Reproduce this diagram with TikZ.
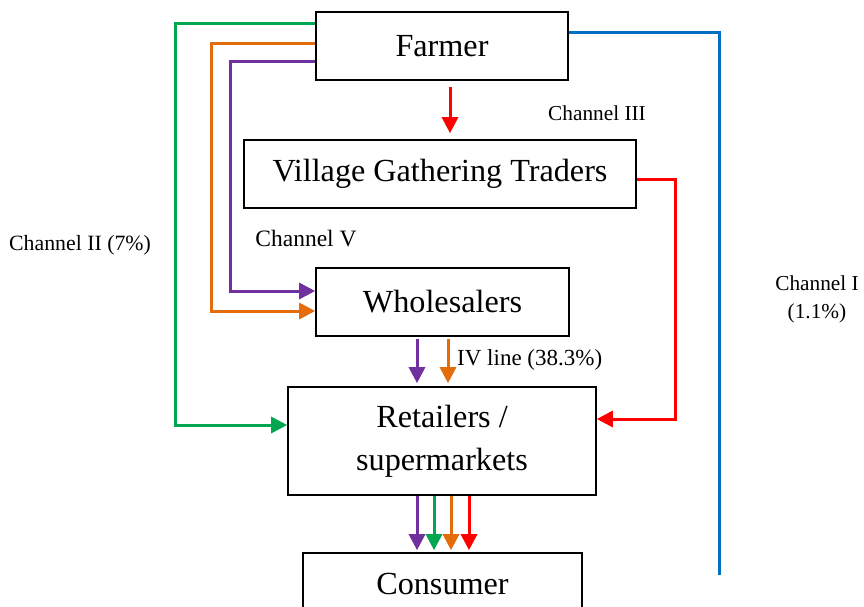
\documentclass[tikz,border=0pt]{standalone}
\usepackage{fontspec}
\setmainfont{Liberation Serif}
\usetikzlibrary{arrows.meta}
\definecolor{cgreen}{RGB}{0,166,80}
\definecolor{corange}{RGB}{228,108,10}
\definecolor{cpurple}{RGB}{112,48,160}
\definecolor{cblue}{RGB}{0,112,192}
\definecolor{cred}{RGB}{255,0,0}
\tikzset{
  box/.style={draw=black, line width=1.6pt, rectangle, inner sep=0pt, font=\fontsize{32.2}{43}\selectfont, align=center},
  lab/.style={font=\fontsize{21.3}{28}\selectfont, inner sep=0pt, align=center},
  flow/.style={line width=3pt},
  arr/.style={flow, -{Triangle[length=16pt,width=16pt]}},
}
\begin{document}
\begin{tikzpicture}[x=1pt,y=-1pt]
\clip (0,0) rectangle (864,607);
\node[box, minimum width=252pt, minimum height=68pt] (Farmer) at (442,46) {Farmer};
\node[box, minimum width=392pt, minimum height=68pt] (VGT) at (440,174) {Village Gathering Traders};
\node[box, minimum width=253pt, minimum height=68pt] (Whole) at (442.5,302) {Wholesalers};
\node[box, minimum width=308pt, minimum height=108pt] (Retail) at (442,441) {Retailers /\\supermarkets};
\node[box, minimum width=279pt, minimum height=62pt] (Cons) at (442.5,584) {Consumer};

\node[lab] (l3) at (597,113) {Channel III};
\node[lab, font=\fontsize{23.5}{28}\selectfont] (l5) at (306,239) {Channel V};
\node[lab, font=\fontsize{21.8}{28}\selectfont] (l2) at (80,245) {Channel II (7\%)};
\node[lab] (l1) at (817,299) {Channel I\\(1.1\%)};
\node[lab, anchor=west, font=\fontsize{23}{28}\selectfont] (l4) at (457,360) {IV line (38.3\%)};

\coordinate (bEnd) at (719,575);

% Channel I (blue)
\draw[flow, cblue] (Farmer.east |- 0,33) -| (bEnd);
% Channel II (green)
\draw[arr, cgreen] (Farmer.west |- 0,24) -| (175,425) -- (Retail.west |- 0,425);
% orange
\draw[arr, corange] (Farmer.west |- 0,44) -| (211,311) -- (Whole.west |- 0,311);
% purple
\draw[arr, cpurple] (Farmer.west |- 0,62) -| (230,291) -- (Whole.west |- 0,291);
% Channel III (red)
\draw[arr, cred, shorten <=6pt, shorten >=6pt] (Farmer.south -| 450,0) -- (VGT.north -| 450,0);
\draw[arr, cred] (VGT.east |- 0,179) -| (675,419) -- (Retail.east |- 0,419);
% wholesalers -> retailers
\draw[arr, cpurple, shorten <=2pt, shorten >=3pt] (Whole.south -| 417,0) -- (Retail.north -| 417,0);
\draw[arr, corange, shorten <=2pt, shorten >=3pt] (Whole.south -| 448,0) -- (Retail.north -| 448,0);
% retailers -> consumer
\draw[arr, cpurple, shorten >=2pt] (Retail.south -| 417,0) -- (Cons.north -| 417,0);
\draw[arr, cgreen, shorten >=2pt] (Retail.south -| 434,0) -- (Cons.north -| 434,0);
\draw[arr, corange, shorten >=2pt] (Retail.south -| 451,0) -- (Cons.north -| 451,0);
\draw[arr, cred, shorten >=2pt] (Retail.south -| 469,0) -- (Cons.north -| 469,0);
\end{tikzpicture}
\end{document}
